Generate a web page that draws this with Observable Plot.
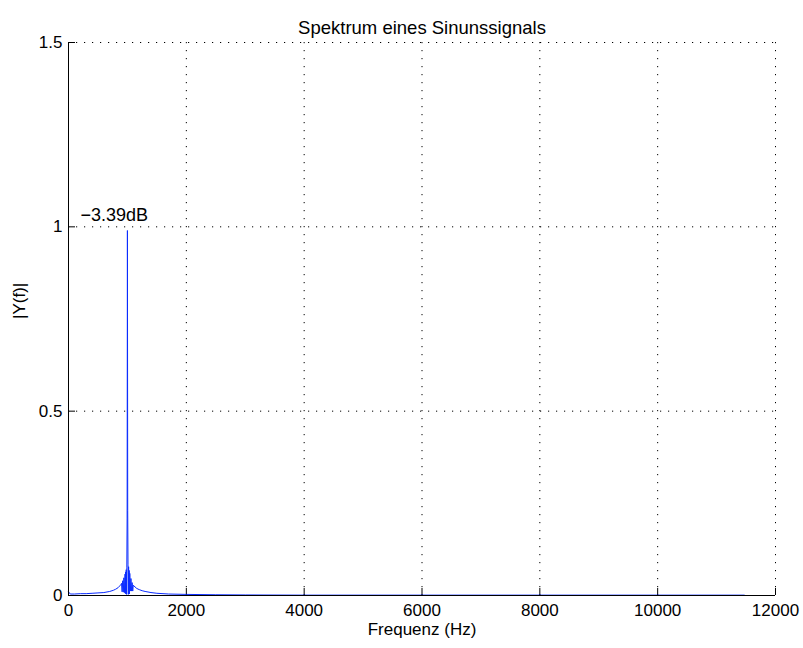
<!DOCTYPE html>
<html><head><meta charset="utf-8">
<script src="https://cdn.jsdelivr.net/npm/d3@7"></script>
<script src="https://cdn.jsdelivr.net/npm/@observablehq/plot@0.6"></script>
<style>body{margin:0;background:#fff}</style>
</head><body><div id="chart"></div>
<script>
const freqHz = [0, 30, 100, 200, 300, 400, 500, 600, 700, 760, 800, 840, 870, 890,
  900, 910, 920, 930, 940, 950, 960, 965, 970, 975, 980, 985, 990,
  995, 1000, 1005,
  1010, 1015, 1020, 1025, 1030, 1035, 1040, 1050, 1060, 1070, 1080, 1090, 1100,
  1130, 1160, 1200, 1250, 1300, 1400, 1500, 1700, 2000, 2500, 3000, 4000, 6000, 8000, 10000, 11470];
const magnitude = [0.010, 0.004, 0.004, 0.005, 0.005, 0.006, 0.007, 0.008, 0.011, 0.014, 0.017, 0.021, 0.026, 0.030,
  0.033, 0.010, 0.040, 0.009, 0.048, 0.008, 0.058, 0.006, 0.064, 0.004, 0.070, 0.003, 0.075,
  0.21, 0.99, 0.23,
  0.085, 0.003, 0.078, 0.004, 0.068, 0.005, 0.060, 0.012, 0.046, 0.012, 0.035, 0.012, 0.028,
  0.023, 0.019, 0.016, 0.013, 0.011, 0.008, 0.006, 0.004, 0.003, 0.002, 0.0015, 0.001, 0.001, 0.001, 0.001, 0.001];
const xTicks = [0, 2000, 4000, 6000, 8000, 10000, 12000];
const yTicks = [0, 0.5, 1, 1.5];
const title = "Spektrum eines Sinunssignals";
const xLabel = "Frequenz (Hz)";
const yLabel = "|Y(f)|";
const peakLabel = "\u22123.39dB";
const peakLabelAt = {f: 204, m: 1.0};

const spectrum = freqHz.map((f, i) => ({f, m: magnitude[i]}));

const W = 803, H = 648;
const mL = 68, mR = 28, mT = 42, mB = 53;
const tickPx = 7;
const tickY = tickPx / (H - mT - mB) * 1.5;
const tickX = tickPx / (W - mL - mR) * 12000;
const font = "Helvetica, 'Liberation Sans', Arial, sans-serif";
const dots = "1.2,6.8";

const plot = Plot.plot({
  width: W, height: H,
  marginLeft: mL, marginRight: mR, marginTop: mT, marginBottom: mB,
  style: {fontFamily: font, background: "#fff", color: "#000"},
  x: {domain: [0, 12000], axis: null},
  y: {domain: [0, 1.5], axis: null},
  marks: [
    Plot.ruleX(xTicks.slice(1), {stroke: "#000", strokeDasharray: dots, strokeWidth: 1}),
    Plot.ruleY(yTicks.slice(1), {stroke: "#000", strokeDasharray: dots, strokeWidth: 1}),
    Plot.ruleX(xTicks, {y1: 0, y2: tickY, stroke: "#000"}),
    Plot.ruleY(yTicks, {x1: 0, x2: tickX, stroke: "#000"}),
    Plot.line(spectrum, {x: "f", y: "m", stroke: "#0a2cff", strokeWidth: 1}),
    Plot.ruleX([0], {stroke: "#000"}),
    Plot.ruleY([0], {stroke: "#000"}),
    Plot.axisX({ticks: xTicks, tickSize: 0, tickPadding: 8, fontSize: 17, tickFormat: d => String(d), label: null}),
    Plot.axisY({ticks: yTicks, tickSize: 0, tickPadding: 6, fontSize: 17, tickFormat: d => String(d), label: null}),
    Plot.text([peakLabel], {x: () => peakLabelAt.f, y: () => peakLabelAt.m, text: d => d, textAnchor: "start", lineAnchor: "bottom", dy: -6, fontSize: 18}),
    Plot.text([title], {frameAnchor: "top", dy: -22, fontSize: 18.5}),
    Plot.text([xLabel], {frameAnchor: "bottom", dy: 39, fontSize: 17}),
    Plot.text([yLabel], {frameAnchor: "left", dx: -49, rotate: -90, fontSize: 17})
  ]
});
document.getElementById("chart").appendChild(plot);
</script>
</body></html>
